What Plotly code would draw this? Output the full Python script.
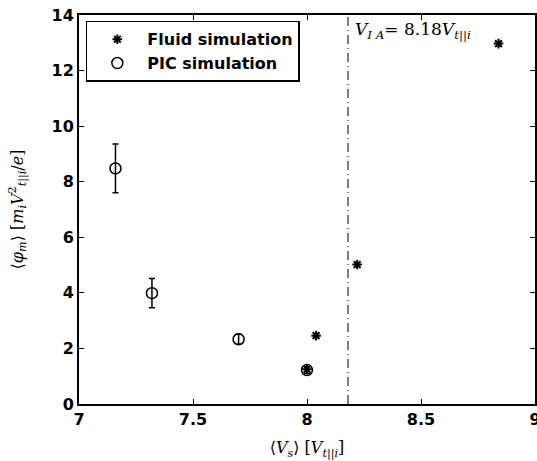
import plotly.graph_objects as go

# Data
fluid_x = [8.00, 8.04, 8.22, 8.84]
fluid_y = [1.25, 2.46, 5.02, 12.97]
pic_x = [7.16, 7.32, 7.70, 8.00]
pic_y = [8.48, 3.99, 2.33, 1.22]
pic_err = [0.88, 0.53, 0.18, 0.12]
v_ia = 8.18
x_ticks = [7, 7.5, 8, 8.5, 9]
y_ticks = [0, 2, 4, 6, 8, 10, 12, 14]

PAR = "||"
SANS = "DejaVu Sans"

fig = go.Figure()
fig.add_trace(go.Scatter(
    x=fluid_x, y=fluid_y, mode="markers", name="<b>Fluid simulation</b>",
    marker=dict(symbol="asterisk-open", size=8, color="black",
                line=dict(color="black", width=2)),
))
fig.add_trace(go.Scatter(
    x=pic_x, y=pic_y, mode="markers", name="<b>PIC simulation</b>",
    marker=dict(symbol="circle-open", size=11, color="black",
                line=dict(color="black", width=1.5)),
    error_y=dict(type="data", array=pic_err, visible=True,
                 color="black", thickness=1.5, width=3),
))

fig.add_shape(type="line", x0=v_ia, x1=v_ia, y0=0, y1=14, xref="x", yref="y",
              line=dict(color="black", width=1, dash="9px,4px,1px,4px"))

fig.add_annotation(
    x=v_ia, y=13.45, xref="x", yref="y", xanchor="left", yanchor="middle",
    xshift=5, showarrow=False,
    text=f"<i>V</i><sub><i>I A</i></sub>= 8.18<i>V</i><sub><i>t</i>{PAR}<i>i</i></sub>",
    font=dict(family="DejaVu Serif", size=17, color="black"),
)

axis_common = dict(
    showgrid=False, zeroline=False, showline=True, linecolor="black",
    linewidth=2, mirror="ticks", ticks="inside", ticklen=5, tickwidth=1,
    tickcolor="black", ticklabeloverflow="allow", automargin=False,
    tickfont=dict(family=SANS, size=16, color="black", weight=700),
)

fig.update_layout(
    width=537, height=461,
    margin=dict(l=79, r=2, t=15, b=57, autoexpand=False),
    paper_bgcolor="white", plot_bgcolor="white",
    showlegend=True,
    legend=dict(
        x=0.015, y=0.985, xanchor="left", yanchor="top",
        bordercolor="black", borderwidth=1.5, bgcolor="white",
        font=dict(family=SANS, size=16, color="black", weight=700),
        itemwidth=50, tracegroupgap=0,
    ),
    xaxis=dict(range=[7, 9], tickvals=x_ticks, ticktext=[f"<b>{t}</b>" for t in x_ticks],
               title=dict(text=f"⟨<i>V</i><sub><i>s</i></sub>⟩ [<i>V</i><sub><i>t</i>{PAR}<i>i</i></sub>]",
                          font=dict(family="DejaVu Serif", size=16, color="black"),
                          standoff=14),
               **axis_common),
    yaxis=dict(range=[0, 14], tickvals=y_ticks, ticktext=[f"<b>{t}</b>" for t in y_ticks],
               title=dict(text=f"⟨<i>φ</i><sub><i>m</i></sub>⟩ [<i>m</i><sub><i>i</i></sub><i>V</i><sup>2</sup><sub><i>t</i>{PAR}<i>i</i></sub>/<i>e</i>]",
                          font=dict(family="DejaVu Serif", size=16, color="black"),
                          standoff=24),
               **axis_common),
)

fig.write_html("out.html")
